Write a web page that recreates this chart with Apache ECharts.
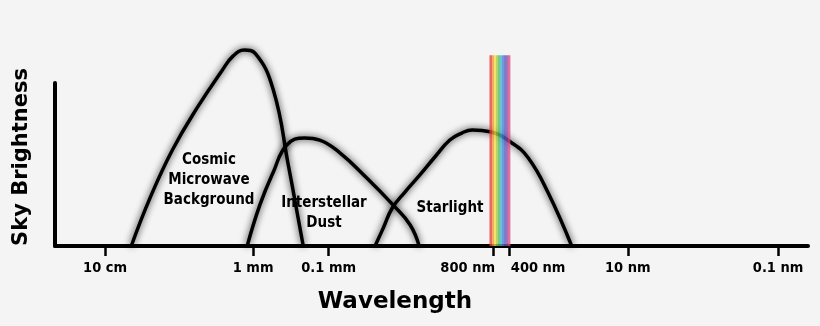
<!DOCTYPE html>
<html><head><meta charset="utf-8">
<script src="https://cdn.jsdelivr.net/npm/echarts@6/dist/echarts.min.js"></script>
<style>html,body{margin:0;padding:0;background:#f4f4f4}#c{width:820px;height:326px}</style>
</head><body><div id="c"></div>
<script>
// x is measured in decades: -log10(wavelength / 1 m); y is relative sky brightness
const tickValues = [1, 2.98, 3.99, 6.19, 6.41, 7.99, 10];
const tickLabels = ['10 cm', '1 mm', '0.1 mm', '800 nm', '400 nm', '10 nm', '0.1 nm'];

const cmbX = [1.35, 1.60, 1.90, 2.23, 2.56, 2.71, 2.86, 3.01, 3.25, 3.45, 3.65];
const cmbY = [0, 29.4, 58.9, 84.7, 107.4, 116.5, 120.2, 118.0, 95.7, 49.7, 0];

const dustX = [2.90, 3.07, 3.25, 3.43, 3.67, 3.87, 4.14, 4.50, 4.85, 5.08, 5.20];
const dustY = [0, 25.2, 45.4, 62.0, 66.3, 65.0, 57.1, 41.7, 25.2, 12.9, 0];

const starX = [4.61, 4.72, 4.84, 5.01, 5.21, 5.41, 5.61, 5.77, 5.91, 6.15, 6.44, 6.66, 6.92, 7.24];
const starY = [0, 11.0, 23.3, 33.1, 43.6, 54.6, 65.0, 69.3, 71.2, 70.1, 63.2, 54.0, 33.1, 0];

const spectrumStart = 6.14;   // ~700 nm
const spectrumEnd = 6.42;     // ~400 nm
const spectrumTop = 117;
const spectrumColors = ['#e8433a', '#f39a3c', '#f4de44', '#9fcd48', '#57bb62', '#45b4cc', '#4582d4', '#5a5bbf', '#8a4cab', '#d64c80'];

const FONT = 'DejaVu Sans Condensed';
const zip = (xs, ys) => xs.map((x, i) => [x, ys[i]]);
const curveStyle = { color: '#000', width: 3.5, shadowColor: 'rgba(0,0,0,0.85)', shadowBlur: 7 };

function curve(name, xs, ys) {
  return { name, type: 'line', data: zip(xs, ys), smooth: 0.45, symbol: 'none', clip: false,
    lineStyle: curveStyle, z: 3, silent: true };
}

const labelStyle = { fontFamily: FONT, fontWeight: 'bold', fontSize: 14.5, color: '#000' };
const annFont = 'bold 15px "DejaVu Sans Condensed"';

const chart = echarts.init(document.getElementById('c'));
chart.setOption({
  backgroundColor: '#f4f4f4',
  animation: false,
  grid: { left: 55, right: 12, top: 83, bottom: 80 },
  xAxis: {
    type: 'value', min: 0.33, max: 10.4,
    axisLine: { show: true, lineStyle: { color: '#000', width: 4 } },
    axisTick: { show: true, customValues: tickValues, length: 10, lineStyle: { color: '#000', width: 2.5 } },
    axisLabel: Object.assign({
      customValues: tickValues, margin: 15,
      formatter: function (v) {
        const i = tickValues.indexOf(v);
        if (i === 3) return '{r|' + tickLabels[i] + '}';
        if (i === 4) return '{l|' + tickLabels[i] + '}';
        return i >= 0 ? tickLabels[i] : '';
      },
      rich: {
        r: Object.assign({ padding: [0, 51, 0, 0] }, labelStyle),
        l: Object.assign({ padding: [0, 0, 0, 57] }, labelStyle)
      }
    }, labelStyle),
    splitLine: { show: false }
  },
  yAxis: {
    type: 'value', min: 0, max: 100,
    axisLine: { show: true, lineStyle: { color: '#000', width: 4 } },
    axisTick: { show: false }, axisLabel: { show: false }, splitLine: { show: false }
  },
  graphic: [
    { type: 'text', x: 395, y: 302, style: { text: 'Wavelength', textAlign: 'center', textVerticalAlign: 'middle', font: 'bold 23px "DejaVu Sans"', fill: '#000' } },
    { type: 'text', x: 22, y: 157, rotation: Math.PI / 2, style: { text: 'Sky Brightness', textAlign: 'center', textVerticalAlign: 'middle', font: 'bold 21px "DejaVu Sans"', fill: '#000' } },
    { type: 'text', x: 209, y: 180, style: { text: 'Cosmic\nMicrowave\nBackground', textAlign: 'center', textVerticalAlign: 'middle', lineHeight: 20, font: annFont, fill: '#000' }, z: 10 },
    { type: 'text', x: 324, y: 213, style: { text: 'Interstellar\nDust', textAlign: 'center', textVerticalAlign: 'middle', lineHeight: 20, font: annFont, fill: '#000' }, z: 10 },
    { type: 'text', x: 450, y: 208, style: { text: 'Starlight', textAlign: 'center', textVerticalAlign: 'middle', font: annFont, fill: '#000' }, z: 10 }
  ],
  series: [
    curve('Cosmic Microwave Background', cmbX, cmbY),
    curve('Interstellar Dust', dustX, dustY),
    curve('Starlight', starX, starY),
    {
      type: 'custom', clip: false, z: 4, silent: true,
      data: [[spectrumStart, spectrumEnd, spectrumTop]],
      renderItem: function (params, api) {
        const p0 = api.coord([api.value(0), 0]);
        const p1 = api.coord([api.value(1), api.value(2)]);
        const n = spectrumColors.length;
        const stops = [];
        spectrumColors.forEach((c, i) => {
          stops.push({ offset: i / n, color: c });
          stops.push({ offset: (i + 1) / n, color: c });
        });
        return {
          type: 'rect',
          shape: { x: p0[0], y: p1[1], width: p1[0] - p0[0], height: p0[1] - p1[1] },
          style: { fill: new echarts.graphic.LinearGradient(0, 0, 1, 0, stops), opacity: 0.78 }
        };
      }
    }
  ]
});
</script>
</body></html>
